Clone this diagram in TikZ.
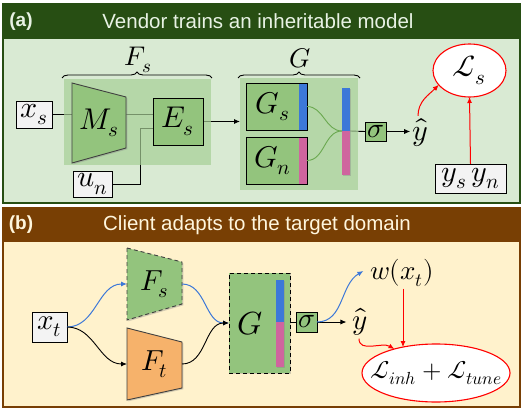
\documentclass[tikz,border=0pt]{standalone}
\usepackage{fontspec}
\usepackage{unicode-math}
\setmathfont{Latin Modern Math}
\newfontfamily\titlefont{Liberation Sans}
\usetikzlibrary{shapes.geometric,decorations.pathreplacing,shadows,calc,arrows.meta}
\definecolor{hdrA}{HTML}{274E13}
\definecolor{bodyA}{HTML}{D9EAD3}
\definecolor{hdrB}{HTML}{783F04}
\definecolor{bodyB}{HTML}{FFF2CC}
\definecolor{boxgreen}{HTML}{93C47D}
\definecolor{shadegreen}{HTML}{A7CF96}
\definecolor{stripblue}{HTML}{3C78D8}
\definecolor{strippink}{HTML}{CF659E}
\definecolor{curvegreen}{HTML}{6AA84F}
\definecolor{orangeF}{HTML}{F6B26B}
\definecolor{inbox}{HTML}{F3F3F3}
\definecolor{trapline}{HTML}{404040}
\definecolor{titleA}{HTML}{E8F2E4}
\definecolor{titleB}{HTML}{FFF6DD}
\newcommand\mfont{\fontsize{30}{36}\selectfont}
\newcommand\gfont{\fontsize{27}{32}\selectfont}
\newcommand\pfont{\fontsize{29}{34}\selectfont}
\newcommand\sfont{\fontsize{28}{33}\selectfont}
\pgfdeclarelayer{bglayer}
\pgfdeclarelayer{linelayer}
\pgfsetlayers{bglayer,linelayer,main}
\begin{document}
\begin{tikzpicture}[x=1pt,y=-1pt,
  every node/.style={inner sep=0pt,outer sep=0pt},
  inbx/.style={draw=black,line width=0.8pt,fill=inbox,font=\mfont},
  gbox/.style={draw=black,line width=0.9pt,fill=boxgreen,font=\mfont},
  shd/.style={drop shadow={shadow xshift=1.3pt,shadow yshift=-1.3pt,opacity=0.35}},
  arr/.style={-{Latex[length=6pt,width=5pt]},line width=0.9pt},
  redarr/.style={-{Latex[length=6pt,width=5pt]},line width=1pt,red},
  bluearr/.style={-{Latex[length=6pt,width=5pt]},line width=1pt,stripblue},
  brc/.style={decorate,decoration={brace,amplitude=6pt},line width=0.9pt},
  ttl/.style={font=\titlefont\fontsize{20.5}{24}\selectfont},
  tag/.style={font=\titlefont\bfseries\fontsize{19}{23}\selectfont}]
\useasboundingbox (0,0) rectangle (526,411);

% ---------------- panel (a) ----------------
\begin{pgfonlayer}{bglayer}
\filldraw[fill=bodyA,draw=hdrA,line width=1.2pt] (3,4) rectangle (520,203);
\fill[hdrA] (2.4,4) rectangle (520.6,39);
\end{pgfonlayer}
\node[tag,text=titleA] (taga) at (21,21.5) {(a)};
\node[ttl,text=titleA] (titlea) at (258,21.5) {Vendor trains an inheritable model};

\node[inbx,minimum width=36pt,minimum height=27pt] (xs) at (34,114.5) {$x_s$};
\node[inbx,minimum width=39pt,minimum height=26pt] (un) at (92.5,184) {$u_n$};
\node[minimum width=54pt,minimum height=80pt] (Msz) at (99,123) {};
\coordinate (jn) at (140,128);
\coordinate (GGw) at (240,121);

% shaded groups
\fill[shadegreen,opacity=0.7] (64,79) rectangle (211,165);
\fill[shadegreen,opacity=0.7] (240,78) rectangle (358,190);

\filldraw[fill=boxgreen,draw=trapline,line width=0.9pt,shd]
  (Msz.north west) -- ($(Msz.north east)+(0,14)$) -- ($(Msz.south east)+(0,-15)$) -- (Msz.south west) -- cycle;
\node[font=\mfont] (Ms) at (Msz.center) {$M_s$};
\node[gbox,shd,minimum width=50pt,minimum height=47pt] (Es) at (178,121.5) {$E_s$};

\begin{pgfonlayer}{linelayer}
\draw[line width=0.9pt] (xs.east) -- (xs.east -| Msz.west);
\draw[line width=0.9pt] (Msz.east |- xs.east) -- (Es.west |- xs.east);
\draw[line width=0.9pt] (un.east) -| (jn) -- (jn -| Es.west);
\draw[arr] (Es.east) -- (Es.east -| GGw);
\end{pgfonlayer}

\draw[brc] (62,78) -- (212,78);
\node[font=\gfont] (Fslbl) at (138,60) {$F_s$};
\draw[brc] (238,78) -- (360,78);
\node[font=\gfont] (Glbl) at (300,58) {$G$};

\node[gbox,shd,minimum width=61pt,minimum height=47pt,
  path picture={\fill[stripblue] ($(path picture bounding box.north east)+(-8,0)$) rectangle (path picture bounding box.south east);}]
  (Gs) at (276.5,106.5) {\hspace*{-8pt}$G_s$};
\node[gbox,shd,minimum width=61pt,minimum height=47pt,
  path picture={\fill[strippink] ($(path picture bounding box.north east)+(-8,0)$) rectangle (path picture bounding box.south east);}]
  (Gn) at (276.5,160.5) {\hspace*{-8pt}$G_n$};
\node[shd,fill=stripblue,minimum width=8pt,minimum height=43pt] (barT) at (346,109.5) {};
\node[shd,fill=strippink,minimum width=8pt,minimum height=44pt] (barB) at (346,153) {};
\fill[stripblue] (barT.south west) rectangle (barT.north east);
\coordinate (barmid) at (barT.south west);
\draw[curvegreen,line width=0.9pt] (Gs.east) to[out=0,in=180] (barmid);
\draw[curvegreen,line width=0.9pt] (Gn.east) to[out=0,in=180] (barmid);

\node[gbox,minimum width=21pt,minimum height=19pt,font=\sfont] (sig) at (375.5,131.5) {$\sigma$};
\begin{pgfonlayer}{linelayer}
\draw[line width=0.9pt] (barT.south east) -- (sig.west);
\end{pgfonlayer}
\node[font=\mfont] (yh) at (420,133) {$\hat y$};
\draw[arr] (sig.east) -- ($(yh.west |- sig.east)+(-2,0)$);

\node[ellipse,draw=red,line width=1.1pt,fill=white,minimum width=73pt,minimum height=53pt,font=\mfont] (Ls) at (469.5,70.5) {$\mathcal{L}_s$};
\node[inbx,minimum width=71pt,minimum height=29pt] (ys) at (470.5,178.5) {$y_s\,y_n$};
\draw[redarr] ($(yh.north)+(-2,-3)$) to[out=90,in=225] (Ls.205);
\draw[redarr] (ys.north) -- (Ls.south);

% ---------------- panel (b) ----------------
\begin{pgfonlayer}{bglayer}
\filldraw[fill=bodyB,draw=hdrB,line width=1.2pt] (3,208) rectangle (520,407);
\fill[hdrB] (2.4,208) rectangle (520.6,242);
\end{pgfonlayer}
\node[tag,text=titleB] (tagb) at (21,225) {(b)};
\node[ttl,text=titleB] (titleb) at (257,225) {Client adapts to the target domain};

\node[inbx,minimum width=35pt,minimum height=30pt,font=\pfont] (xt) at (49.5,327) {$x_t$};

\node[minimum width=55pt,minimum height=72pt] (Fsz) at (154.5,284) {};
\filldraw[fill=boxgreen,draw=trapline,line width=0.9pt,dash pattern=on 4pt off 3pt,shd]
  (Fsz.north west) -- ($(Fsz.north east)+(0,14)$) -- ($(Fsz.south east)+(0,-16)$) -- (Fsz.south west) -- cycle;
\node[font=\pfont] (Fsb) at (Fsz.center) {$F_s$};

\node[minimum width=55pt,minimum height=72pt] (Ftz) at (154.5,364) {};
\filldraw[fill=orangeF,draw=trapline,line width=0.9pt,shd]
  (Ftz.north west) -- ($(Ftz.north east)+(0,14)$) -- ($(Ftz.south east)+(0,-12)$) -- (Ftz.south west) -- cycle;
\node[font=\pfont] (Ftb) at (Ftz.center) {$F_t$};

\node[shd,fill=boxgreen,draw=black,line width=0.9pt,dash pattern=on 4pt off 3pt,minimum width=61pt,minimum height=100pt] (Gb) at (259.5,323) {};
\node[font=\fontsize{32}{38}\selectfont] (Gblbl) at (250,324) {$G$};
\node[shd,fill=stripblue,minimum width=8pt,minimum height=42pt] (bbT) at (280,301) {};
\node[shd,fill=strippink,minimum width=8pt,minimum height=45pt] (bbB) at (280,344.5) {};
\fill[stripblue] (bbT.south west) rectangle (bbT.north east);

\draw[bluearr] (xt.east) to[out=0,in=180] (Fsz.west);
\draw[arr] (xt.east) to[out=0,in=180] (Ftz.west);
\draw[bluearr] (Fsz.east) to[out=0,in=180] (Gb.west);
\draw[arr] (Ftz.east) to[out=0,in=180] (Gb.west);

\node[gbox,minimum width=21pt,minimum height=20pt,font=\sfont] (sigb) at (306.5,322) {$\sigma$};
\draw[line width=0.9pt] (Gb.east |- sigb.west) -- (sigb.west);
\node[font=\pfont] (yhb) at (360,322) {$\hat y$};
\draw[arr] (sigb.east) -- ($(yhb.west |- sigb.east)+(-6,0)$);
\node[font=\fontsize{27}{32}\selectfont] (wx) at (402,273) {$w(x_t)$};
\draw[bluearr] (sigb.east) to[out=0,in=210] ($(wx.west)+(-7,-2)$);

\node[ellipse,draw=red,line width=1.1pt,fill=white,minimum width=148pt,minimum height=58pt] (Lt) at (436,373) {};
\node[font=\fontsize{25}{30}\selectfont] (Ltxt) at (Lt.center) {$\mathcal{L}_{inh}+\mathcal{L}_{tune}$};
\draw[redarr,line width=0.8pt] ($(wx.south)+(1,2)$) -- ($(wx.south |- Lt.north)+(1,3)$);
\draw[redarr] ($(yhb.south)+(-1,3)$) to[out=-90,in=150] (Lt.150);
\end{tikzpicture}
\end{document}
